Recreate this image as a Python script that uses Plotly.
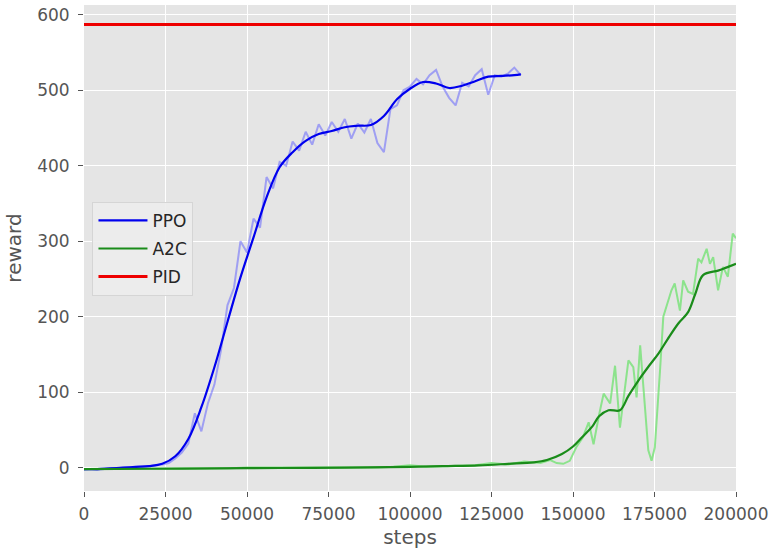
import plotly.graph_objects as go

# ---- data ----
ppo_raw_steps = list(range(0, 134001, 2000))
ppo_raw = [-3, -2, -3, -2, -1, -1, 0, 0, 1, 1, 2, 3, 4, 6, 12, 20, 32, 72, 48, 85,
           110, 155, 215, 238, 300, 285, 330, 318, 385, 370, 405, 400, 432, 420, 445,
           428, 455, 440, 458, 445, 462, 436, 456, 444, 462, 430, 418, 475, 480, 500,
           505, 515, 508, 520, 527, 505, 490, 480, 510, 505, 520, 528, 494, 520, 518,
           522, 530, 520]

ppo_smooth_steps = [0, 4000, 8000, 12000, 16000, 20000, 24000, 28000, 32000, 36000,
                    40000, 44000, 48000, 52000, 56000, 60000, 64000, 68000, 72000,
                    76000, 80000, 84000, 88000, 92000, 96000, 100000, 104000, 108000,
                    112000, 116000, 120000, 124000, 128000, 132000, 134000]
ppo_smooth = [-2, -2, -1, 0, 1, 2, 5, 15, 38, 80, 133, 193, 252, 305, 358, 398, 418,
              433, 442, 446, 451, 453, 454, 466, 488, 502, 511, 509, 503, 506, 512,
              518, 519, 520, 521]

a2c_raw_steps = [0, 5000, 10000, 15000, 20000, 25000, 30000, 35000, 40000, 45000,
                 50000, 55000, 60000, 65000, 70000, 75000, 80000, 85000, 90000, 95000,
                 100000, 105000, 110000, 115000, 120000, 125000, 130000, 135000, 140000,
                 143000, 145000, 147000, 149000, 151000, 153000, 154800, 156300, 158000,
                 159400, 161400, 162900, 164400, 167000, 168500, 169500, 170600, 172100,
                 173100, 174100, 175100, 176700, 177700, 180200, 181200, 182800, 183800,
                 185300, 186800, 188400, 189400, 191000, 192000, 193000, 194500, 196000,
                 197500, 199000, 200000]
a2c_raw = [-2, -2, -2, -1, -1, -1, -1, -1, -1, -1, 0, 0, 0, 0, -1, 0, 0, 0, 0, 1,
           3, 1, 2, 2, 3, 6, 4, 8, 6,
           10, 6, 5, 9, 27, 40, 60, 31, 70, 98, 85, 135, 53, 142, 133, 93, 162, 85,
           23, 9, 27, 129, 200, 235, 244, 208, 248, 233, 230, 277, 272, 290, 270, 279,
           235, 266, 253, 310, 304]

a2c_smooth_steps = [0, 20000, 40000, 60000, 80000, 100000, 110000, 121000, 130000,
                    138000, 142000, 146600, 150000, 152700, 156000, 158000, 160900,
                    164400, 167000, 170000, 173000, 176200, 179000, 182300, 185300,
                    187500, 189900, 194500, 197000, 200000]
a2c_smooth = [-2, -1.5, -1, -0.5, 0, 1, 2, 3, 5, 7, 10, 18, 28, 40, 55, 68, 76, 76,
              95, 115, 133, 151, 170, 191, 206, 230, 255, 261, 265, 270]

pid_steps = [0, 200000]
pid_reward = [587, 587]

x_ticks = [0, 25000, 50000, 75000, 100000, 125000, 150000, 175000, 200000]
y_ticks = [0, 100, 200, 300, 400, 500, 600]

# ---- figure ----
fig = go.Figure()
fig.add_trace(go.Scatter(x=ppo_raw_steps, y=ppo_raw, mode="lines",
                         line=dict(color="rgba(90,90,255,0.5)", width=2),
                         showlegend=False, hoverinfo="skip"))
fig.add_trace(go.Scatter(x=a2c_raw_steps, y=a2c_raw, mode="lines",
                         line=dict(color="rgba(110,225,110,0.75)", width=2),
                         showlegend=False, hoverinfo="skip"))
fig.add_trace(go.Scatter(x=ppo_smooth_steps, y=ppo_smooth, mode="lines", name="PPO",
                         legendgroup="ppo",
                         line=dict(color="#0000ee", width=2.2, shape="spline")))
fig.add_trace(go.Scatter(x=a2c_smooth_steps, y=a2c_smooth, mode="lines", name="A2C",
                         legendgroup="a2c",
                         line=dict(color="#1a8c1a", width=2.2, shape="spline")))
fig.add_trace(go.Scatter(x=pid_steps, y=pid_reward, mode="lines", name="PID",
                         legendgroup="pid",
                         line=dict(color="#ee0000", width=3)))

axis_common = dict(showgrid=True, gridcolor="white", gridwidth=1.2, zeroline=False,
                   ticks="outside", ticklen=5, tickcolor="#555555", tickwidth=1,
                   tickfont=dict(family="DejaVu Sans", size=17, color="#555555"),
                   showline=False)

fig.update_xaxes(range=[0, 200000], tickvals=x_ticks,
                 ticktext=[str(v) for v in x_ticks],
                 ticklabelstandoff=3,
                 title=dict(text="steps", font=dict(family="DejaVu Sans", size=20, color="#555555"),
                            standoff=6),
                 **axis_common)
fig.update_yaxes(range=[-31, 613], tickvals=y_ticks,
                 ticktext=[str(v) for v in y_ticks],
                 ticklabelstandoff=5,
                 title=dict(text="reward", font=dict(family="DejaVu Sans", size=20, color="#555555"),
                            standoff=10),
                 **axis_common)

fig.update_layout(
    width=773, height=552,
    margin=dict(l=84, r=35, t=5, b=61),
    paper_bgcolor="white", plot_bgcolor="#E5E5E5",
    font=dict(family="DejaVu Sans", color="#262626"),
    legend=dict(x=0.013, y=0.595, xanchor="left", yanchor="top",
                bgcolor="rgba(236,236,236,0.9)", bordercolor="#d5d5d5", borderwidth=1,
                font=dict(family="DejaVu Sans", size=17, color="#262626"),
                tracegroupgap=3, itemwidth=49),
)

fig.write_html("out.html")
